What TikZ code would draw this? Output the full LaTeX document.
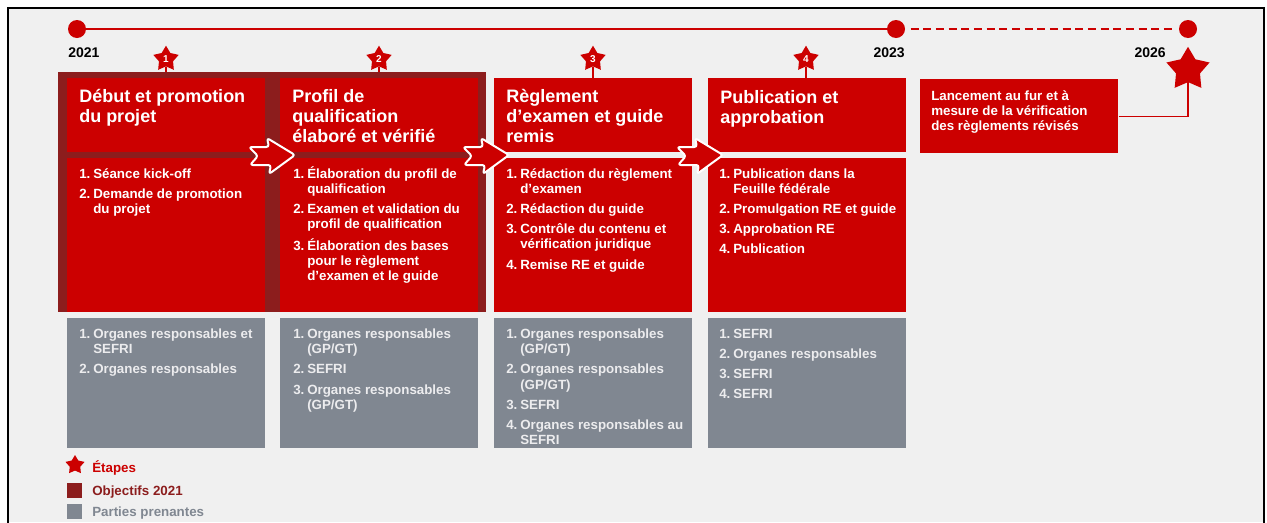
\documentclass[tikz,border=0pt]{standalone}
\usepackage{fontspec}
\setmainfont{Liberation Sans}
\usetikzlibrary{positioning, shapes.geometric}

\definecolor{sbfired}{RGB}{204,0,0}
\definecolor{objred}{RGB}{140,29,29}
\definecolor{partgray}{RGB}{128,135,145}
\definecolor{pagebg}{RGB}{240,240,240}
\definecolor{parttxt}{RGB}{236,236,238}

\newcommand{\stacklines}[1]{\begin{tabular}[t]{@{}l@{}}#1\end{tabular}}
\newcommand{\nr}[1]{\makebox[10.5pt][l]{#1}}
\newcommand{\ind}{\hspace*{10.5pt}}

\begin{document}
\begin{tikzpicture}[
  x=0.75pt, y=-0.75pt,
  colbox/.style = {anchor=north west, inner sep=0, minimum width=148.5pt},
  ttlbox/.style = {colbox, fill=sbfired, minimum height=55.5pt},
  todobox/.style = {colbox, fill=sbfired, minimum height=115.5pt},
  partbox/.style = {colbox, fill=partgray, minimum height=97.5pt},
  ttl/.style = {anchor=base west, inner sep=0, text=white,
                font=\fontsize{13.5}{15}\selectfont\bfseries},
  lst/.style = {anchor=base west, inner sep=0, text=white,
                font=\fontsize{10}{11.5}\selectfont\bfseries},
  plst/.style = {lst, text=parttxt},
  starshape/.style = {star, star points=5, star point ratio=1.8, fill=sbfired,
                      inner sep=0},
  numstar/.style = {starshape, minimum size=20pt, text=white,
                    font=\fontsize{7.5}{7.5}\selectfont\bfseries},
  stem/.style = {draw=sbfired, line width=0.8pt},
  yeardot/.style = {circle, fill=sbfired, inner sep=0, minimum size=13.5pt},
  yr/.style = {inner sep=0, font=\fontsize{10.5}{12}\selectfont\bfseries},
  flowarr/.style = {fill=sbfired, draw=white, line width=1.5pt,
                    rounded corners=2pt, line join=round},
  legtxt/.style = {anchor=base west, inner sep=0,
                   font=\fontsize{10}{12}\selectfont\bfseries}
]
\useasboundingbox (0,0) rectangle (1267,522);
\fill[white] (0,0) rectangle (1267,522);
\fill[pagebg] (8,8) rectangle (1264,522);
\draw[black, line width=2pt] (8,545) -- (8,8) -- (1264,8) -- (1264,545);

% timeline
\node[yeardot] (d21) at (77,29) {};
\node[yeardot] (d23) at (896,29) {};
\node[yeardot] (d26) at (1188,29) {};
\draw[sbfired, line width=1.5pt] (d21) -- (d23);
\draw[sbfired, line width=1.5pt, dash pattern=on 6pt off 3.5pt,
      shorten <=4pt, shorten >=3pt] (d23) -- (d26);
\node[yr, anchor=base west] (y21) at (68,57) {2021};
\node[yr, anchor=base east] (y23) at (905,57) {2023};
\node[yr, anchor=base east] (y26) at (1166,57) {2026};

% objectives 2021
\node[anchor=north west, inner sep=0, fill=objred,
      minimum width=321pt, minimum height=180pt] (obj) at (58,72) {};

% boxes
\node[ttlbox] (t1) at (67,78) {};
\node[ttlbox] (t2) at (280,78) {};
\node[ttlbox] (t3) at (494,78) {};
\node[ttlbox] (t4) at (708,78) {};
\node[todobox] (c1) at (67,158) {};
\node[todobox] (c2) at (280,158) {};
\node[todobox] (c3) at (494,158) {};
\node[todobox] (c4) at (708,158) {};
\node[partbox] (p1) at (67,318) {};
\node[partbox] (p2) at (280,318) {};
\node[partbox] (p3) at (494,318) {};
\node[partbox] (p4) at (708,318) {};
\node[ttlbox] (launch) at (920,79) {};

% milestones
\node[numstar] (s1) at (166,59) {1};
\node[numstar] (s2) at (379,59) {2};
\node[numstar] (s3) at (593,59) {3};
\node[numstar] (s4) at (806,59) {4};
\draw[stem] (s1.south) -- (s1.south |- obj.north);
\draw[stem] (s2.south) -- (s2.south |- obj.north);
\draw[stem] (s3.south) -- (s3.south |- t3.north);
\draw[stem] (s4.south) -- (s4.south |- t4.north);
\node[starshape, minimum size=34pt] (bigstar) at (1188,69.5) {};
\draw[sbfired, line width=0.8pt] (launch.east) -| (bigstar.center);

% titles
\node[ttl] (tt1) at (79,102.5) {\stacklines{Début et promotion\\du projet}};
\node[ttl] (tt2) at (292,102.5) {\stacklines{Profil de\\qualification\\élaboré et vérifié}};
\node[ttl] (tt3) at (506,102.5) {\stacklines{Règlement\\d’examen et guide\\remis}};
\node[ttl] (tt4) at (720,103) {\stacklines{Publication et\\approbation}};
\node[lst] (lt) at (931,100.5) {\fontsize{10}{11.25}\selectfont
  \stacklines{Lancement au fur et à\\mesure de la vérification\\des règlements révisés}};

% tasks
\node[lst] (l1) at (79,178) {\stacklines{\nr{1.}Séance kick-off\\[3.6pt]
  \nr{2.}Demande de promotion\\ \ind du projet}};
\node[lst] (l2) at (293,178) {\stacklines{\nr{1.}Élaboration du profil de\\ \ind qualification\\[3.6pt]
  \nr{2.}Examen et validation du\\ \ind profil de qualification\\[3.6pt]
  \nr{3.}Élaboration des bases\\ \ind pour le règlement\\ \ind d’examen et le guide}};
\node[lst] (l3) at (506,178) {\stacklines{\nr{1.}Rédaction du règlement\\ \ind d’examen\\[3.6pt]
  \nr{2.}Rédaction du guide\\[3.6pt]
  \nr{3.}Contrôle du contenu et\\ \ind vérification juridique\\[3.6pt]
  \nr{4.}Remise RE et guide}};
\node[lst] (l4) at (719,178) {\stacklines{\nr{1.}Publication dans la\\ \ind Feuille fédérale\\[3.6pt]
  \nr{2.}Promulgation RE et guide\\[3.6pt]
  \nr{3.}Approbation RE\\[3.6pt]
  \nr{4.}Publication}};

% stakeholders
\node[plst] (q1) at (79,338.5) {\stacklines{\nr{1.}Organes responsables et\\ \ind SEFRI\\[3.6pt]
  \nr{2.}Organes responsables}};
\node[plst] (q2) at (293,338.5) {\stacklines{\nr{1.}Organes responsables\\ \ind (GP/GT)\\[3.6pt]
  \nr{2.}SEFRI\\[3.6pt]
  \nr{3.}Organes responsables\\ \ind (GP/GT)}};
\node[plst] (q3) at (506,338.5) {\stacklines{\nr{1.}Organes responsables\\ \ind (GP/GT)\\[3.6pt]
  \nr{2.}Organes responsables\\ \ind (GP/GT)\\[3.6pt]
  \nr{3.}SEFRI\\[3.6pt]
  \nr{4.}Organes responsables au\\ \ind SEFRI}};
\node[plst] (q4) at (719,338.5) {\stacklines{\nr{1.}SEFRI\\[3.6pt]
  \nr{2.}Organes responsables\\[3.6pt]
  \nr{3.}SEFRI\\[3.6pt]
  \nr{4.}SEFRI}};

% flow arrows
\draw[flowarr, shift={(295,155)}] (-28,-17) -- (0,0) -- (-26,19) -- (-24,10)
  -- (-45,10) -- (-37,1) -- (-46,-8) -- (-26,-8) -- cycle;
\draw[flowarr, shift={(509,155)}] (-28,-17) -- (0,0) -- (-26,19) -- (-24,10)
  -- (-45,10) -- (-37,1) -- (-46,-8) -- (-26,-8) -- cycle;
\draw[flowarr, shift={(723,155)}] (-28,-17) -- (0,0) -- (-26,19) -- (-24,10)
  -- (-45,10) -- (-37,1) -- (-46,-8) -- (-26,-8) -- cycle;

% legend
\node[starshape, minimum size=15pt] (legstar) at (75,465) {};
\node[legtxt, text=sbfired] (legst) at (92,472.5) {Étapes};
\node[anchor=north west, inner sep=0, fill=objred, minimum size=11.25pt] (legobj) at (67,483) {};
\node[legtxt, text=objred] (legob) at (92,495.5) {Objectifs 2021};
\node[anchor=north west, inner sep=0, fill=partgray, minimum size=11.25pt] (legpart) at (67,504) {};
\node[legtxt, text=partgray] (legpt) at (92,516.5) {Parties prenantes};
\end{tikzpicture}
\end{document}
